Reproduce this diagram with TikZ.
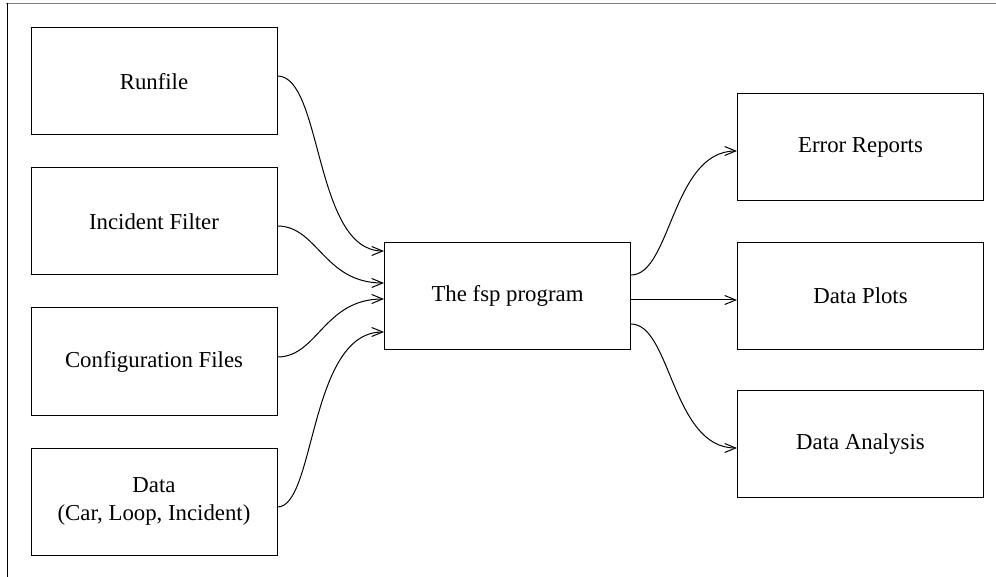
\documentclass[tikz,border=0pt]{standalone}
\usepackage{fontspec}
\setmainfont{Liberation Serif}
\usetikzlibrary{arrows.meta}
\begin{document}
\begin{tikzpicture}[x=1pt,y=-1pt,
  box/.style={draw,line width=1pt,minimum width=246pt,minimum height=107pt,
    inner sep=0pt,align=center,font=\fontsize{22.8}{28}\selectfont},
  flow/.style={line width=1pt,-{Straight Barb[length=11pt,width=9pt,line width=1pt]}}]
\useasboundingbox (0,0) rectangle (996,577);
% page rules
\draw[gray,line width=1.6pt] (6,3.5) -- (996,3.5);
\draw[line width=1pt] (7,3) -- (7,577);
% inputs
\node[box] (run)  at (154,81.5)  {Runfile};
\node[box] (inc)  at (154,221.5) {Incident Filter};
\node[box] (cfg)  at (154,361.5) {Configuration Files};
\node[box] (dat)  at (154,501.5) {Data\\(Car, Loop, Incident)};
% program
\node[box] (fsp)  at (507.5,296) {The fsp program};
% outputs
\node[box] (err)  at (860.5,147.5) {Error Reports};
\node[box] (plt)  at (860.5,296)   {Data Plots};
\node[box] (ana)  at (860.5,444)   {Data Analysis};
% connectors into the program
\draw[flow] ([yshift=5.5pt]run.east) .. controls +(45,0) and +(-70,0) .. ([yshift=45pt]fsp.west);
\draw[flow] ([yshift=-4.5pt]inc.east) .. controls +(40,0) and +(-60,0) .. ([yshift=13pt]fsp.west);
\draw[flow] ([yshift=4.5pt]cfg.east) .. controls +(40,0) and +(-60,0) .. ([yshift=-3pt]fsp.west);
\draw[flow] ([yshift=-5.5pt]dat.east) .. controls +(38,0) and +(-75,0) .. ([yshift=-36pt]fsp.west);
% connectors out of the program
\draw[flow] ([yshift=21pt]fsp.east) .. controls +(40,0) and +(-65,0) .. ([yshift=-3.5pt]err.west);
\draw[flow] ([yshift=-4pt]fsp.east) -- ([yshift=-4pt]plt.west);
\draw[flow] ([yshift=-28pt]fsp.east) .. controls +(40,0) and +(-65,0) .. ([yshift=-4pt]ana.west);
\end{tikzpicture}
\end{document}
